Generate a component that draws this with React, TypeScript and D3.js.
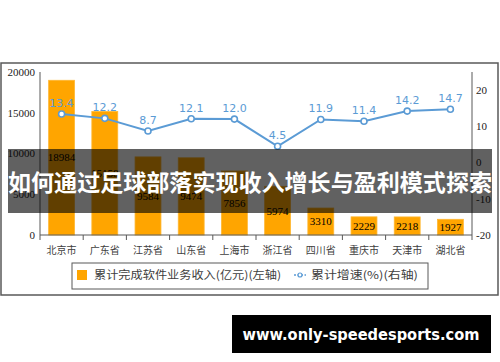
import * as d3 from 'd3';

const cities = ['北京市', '广东省', '江苏省', '山东省', '上海市', '浙江省', '四川省', '重庆市', '天津市', '湖北省'];
const revenue = [18984, 15158, 9584, 9474, 7856, 5974, 3310, 2229, 2218, 1927];
const growth = [13.4, 12.2, 8.7, 12.1, 12.0, 4.5, 11.9, 11.4, 14.2, 14.7];
const leftTicks = [0, 5000, 10000, 15000, 20000];
const rightTicks = [-20, -10, 0, 10, 20];

const title = '如何通过足球部落实现收入增长与盈利模式探索';
const watermark = 'www.only-speedesports.com';

const W = 500;
const H = 362;
const plot = { left: 40, right: 472, top: 72, bottom: 235 };

const serif = '"Liberation Serif", "Times New Roman", serif';
const cjk = '"Noto Sans CJK SC", sans-serif';

export default function App() {
  const x = d3.scaleBand<string>()
    .domain(cities)
    .range([plot.left, plot.right])
    .paddingInner(0.4)
    .paddingOuter(0.2);

  const yL = d3.scaleLinear().domain([0, 20000]).range([plot.bottom, plot.top]);
  const yR = d3.scaleLinear().domain([-20, 25]).range([plot.bottom, plot.top]);

  const cx = (c: string) => (x(c) || 0) + x.bandwidth() / 2;
  const step = x.step();

  const line = d3.line<number>()
    .x((_, i) => cx(cities[i]))
    .y(d => yR(d));

  const blue = '#5B9BD5';
  const orange = '#FFA500';
  const axisColor = '#595959';

  return (
    <svg width={W} height={H} style={{ position: 'absolute', left: 0, top: 0, background: '#fff' }}>
      {/* outer frame */}
      <rect x={1} y={63} width={497} height={232} fill="#fff" stroke={axisColor} strokeWidth={1.5} />

      {/* bars */}
      {revenue.map((v, i) => (
        <rect key={cities[i]} x={x(cities[i])} y={yL(v)} width={x.bandwidth()}
          height={yL(0) - yL(v)} fill={orange} stroke="#FFB833" strokeWidth={0.8} />
      ))}
      {revenue.map((v, i) => (
        <text key={'bl' + i} x={cx(cities[i])} y={(yL(v) + yL(0)) / 2} dy="0.35em"
          textAnchor="middle" fontFamily={serif} fontSize={11} fill="#000">{v}</text>
      ))}

      {/* axes */}
      <line x1={plot.left} x2={plot.left} y1={plot.top} y2={plot.bottom} stroke={axisColor} strokeWidth={1} />
      <line x1={plot.right} x2={plot.right} y1={plot.top} y2={plot.bottom} stroke={axisColor} strokeWidth={1} />
      <line x1={plot.left} x2={plot.right} y1={plot.bottom} y2={plot.bottom} stroke={axisColor} strokeWidth={1} />
      {d3.range(cities.length + 1).map(i => (
        <line key={'xt' + i} x1={plot.left + i * step} x2={plot.left + i * step}
          y1={plot.bottom} y2={plot.bottom + 5} stroke={axisColor} strokeWidth={1} />
      ))}
      {leftTicks.map(t => (
        <text key={'lt' + t} x={35} y={yL(t)} dy="0.35em" textAnchor="end"
          fontFamily={serif} fontSize={11} fill="#222">{t}</text>
      ))}
      {rightTicks.map(t => (
        <text key={'rt' + t} x={476} y={yR(t)} dy="0.35em" textAnchor="start"
          fontFamily={serif} fontSize={11} fill="#222">{t}</text>
      ))}
      {cities.map(c => (
        <text key={'cl' + c} x={cx(c)} y={250} dy="0.35em" textAnchor="middle"
          fontFamily={cjk} fontSize={10} fill="#404040">{c}</text>
      ))}

      {/* growth line */}
      <path d={line(growth) || ''} fill="none" stroke={blue} strokeWidth={2} />
      {growth.map((v, i) => (
        <circle key={'pt' + i} cx={cx(cities[i])} cy={yR(v)} r={3} fill="#fff" stroke={blue} strokeWidth={1.6} />
      ))}
      {growth.map((v, i) => (
        <text key={'gl' + i} x={cx(cities[i])} y={yR(v) - 7} textAnchor="middle"
          fontFamily='"DejaVu Sans", Verdana, sans-serif' fontSize={11} fill={blue}>{v.toFixed(1)}</text>
      ))}

      {/* legend */}
      <rect x={72} y={263} width={356} height={26} fill="#fff" stroke={axisColor} strokeWidth={1} />
      <rect x={77} y={270} width={10} height={10} fill={orange} />
      <text x={94} y={275} dy="0.35em" fontFamily={cjk} fontSize={11} fill="#404040"
        textLength={187} lengthAdjust="spacingAndGlyphs">累计完成软件业务收入(亿元)(左轴)</text>
      <line x1={294} x2={306} y1={275} y2={275} stroke={blue} strokeWidth={1.5} strokeDasharray="2,1.5" />
      <circle cx={300} cy={275} r={2} fill="#fff" stroke={blue} strokeWidth={1.2} />
      <text x={311} y={275} dy="0.35em" fontFamily={cjk} fontSize={11} fill="#404040"
        textLength={107} lengthAdjust="spacingAndGlyphs">累计增速(%)(右轴)</text>

      {/* overlay banner */}
      <rect x={8} y={149} width={484} height={64} fill="rgba(0,0,0,0.62)" />
      <text x={250} y={183} dy="0.35em" textAnchor="middle" fontFamily={cjk} fontWeight="bold"
        fontSize={23} fill="#fff" textLength={484} lengthAdjust="spacingAndGlyphs">{title}</text>

      {/* watermark */}
      <rect x={232} y={315} width={259} height={38} fill="#000" />
      <text x={361} y={335} dy="0.35em" textAnchor="middle" fontFamily='"DejaVu Sans", Verdana, sans-serif'
        fontWeight="bold" fontSize={15.5} fill="#fff" textLength={237} lengthAdjust="spacingAndGlyphs">{watermark}</text>
    </svg>
  );
}
